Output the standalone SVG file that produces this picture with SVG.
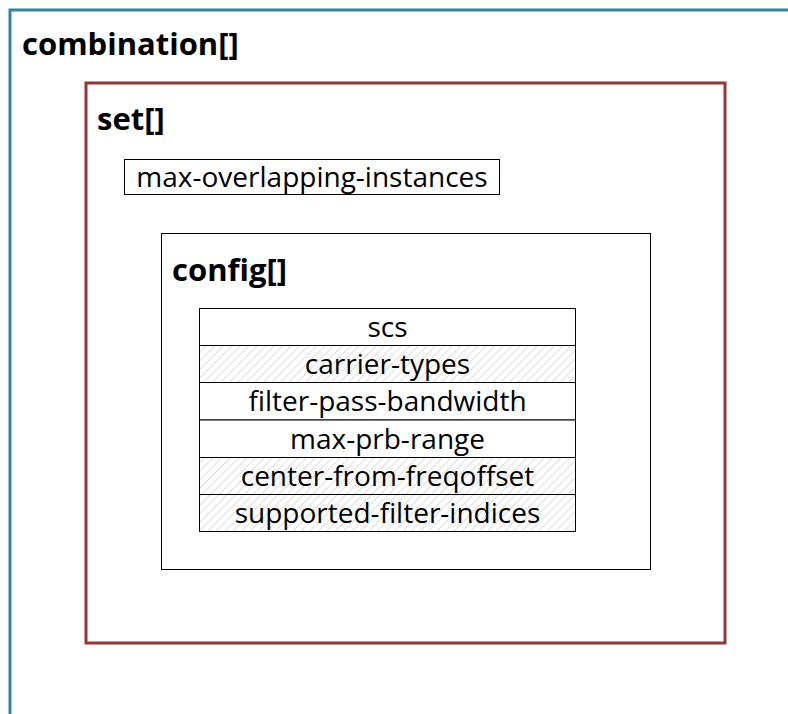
<svg xmlns="http://www.w3.org/2000/svg" width="788" height="714" viewBox="0 0 788 714">
<defs>
<pattern id="hatch" patternUnits="userSpaceOnUse" width="6" height="6" patternTransform="rotate(45)">
<rect width="6" height="6" fill="#fff"/>
<line x1="0" y1="0" x2="0" y2="6" stroke="#bdbdbd" stroke-width="1"/>
</pattern>
<style>
.t{font-family:"Open Sans","Liberation Sans",sans-serif;fill:#000}
.title{font-weight:bold;font-size:31px}
.item{font-size:28px;text-anchor:middle}
.row{stroke:#000;stroke-width:1}
</style>
</defs>
<rect width="788" height="714" fill="#fff"/>
<g id="combination">
<path d="M10 716 V10 H790" fill="none" stroke="#31859c" stroke-width="3"/>
<text class="t title" x="22" y="55">combination[]</text>
</g>
<g id="set">
<rect x="86" y="83" width="639" height="560" fill="#fff" stroke="#953735" stroke-width="3"/>
<text class="t title" x="97" y="130">set[]</text>
</g>
<g id="max-overlapping-instances">
<rect x="124.5" y="159.5" width="375" height="35" fill="#fff" stroke="#000" stroke-width="1"/>
<text class="t item" x="312" y="187">max-overlapping-instances</text>
</g>
<g id="config">
<rect x="161.5" y="233.5" width="489" height="336" fill="#fff" stroke="#000" stroke-width="1"/>
<text class="t title" x="172" y="281">config[]</text>
</g>
<g id="config-leaves">
<g id="scs"><rect class="row" x="199.5" y="308.5" width="376" height="37" fill="#fff"/><text class="t item" x="387.5" y="337">scs</text></g>
<g id="carrier-types"><rect class="row" x="199.5" y="345.5" width="376" height="37" fill="url(#hatch)"/><text class="t item" x="387.5" y="374">carrier-types</text></g>
<g id="filter-pass-bandwidth"><rect class="row" x="199.5" y="382.5" width="376" height="37.5" fill="#fff"/><text class="t item" x="387.5" y="411">filter-pass-bandwidth</text></g>
<g id="max-prb-range"><rect class="row" x="199.5" y="420" width="376" height="37.5" fill="#fff"/><text class="t item" x="387.5" y="449">max-prb-range</text></g>
<g id="center-from-freqoffset"><rect class="row" x="199.5" y="457.5" width="376" height="37" fill="url(#hatch)"/><text class="t item" x="387.5" y="486">center-from-freqoffset</text></g>
<g id="supported-filter-indices"><rect class="row" x="199.5" y="494.5" width="376" height="37" fill="url(#hatch)"/><text class="t item" x="387.5" y="523">supported-filter-indices</text></g>
</g>
<g id="connectors"></g>
</svg>
